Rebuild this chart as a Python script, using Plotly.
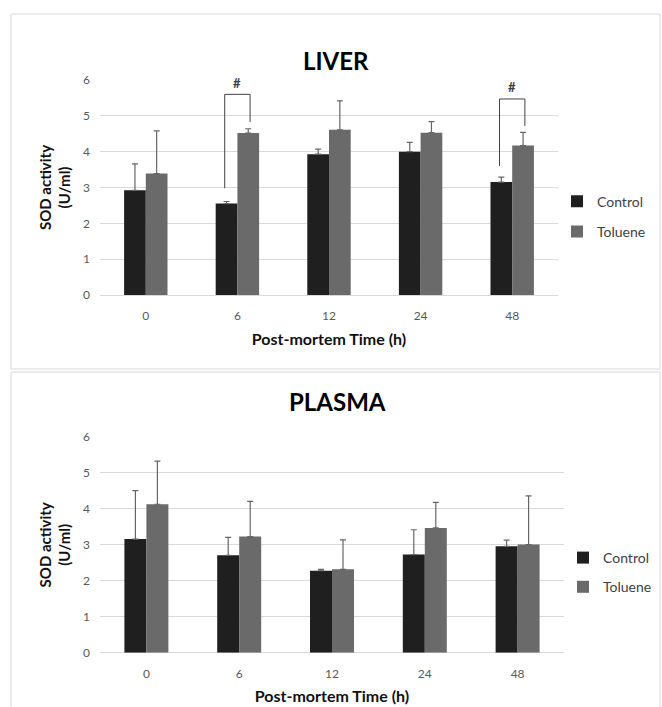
import plotly.graph_objects as go

# ---------------- data ----------------
times = ["0", "6", "12", "24", "48"]

liver_control = [2.92, 2.55, 3.93, 4.00, 3.15]
liver_control_err = [0.74, 0.06, 0.14, 0.26, 0.14]
liver_toluene = [3.39, 4.52, 4.61, 4.53, 4.17]
liver_toluene_err = [1.19, 0.12, 0.81, 0.31, 0.37]

plasma_control = [3.16, 2.71, 2.28, 2.73, 2.96]
plasma_control_err = [1.35, 0.50, 0.04, 0.69, 0.17]
plasma_toluene = [4.13, 3.23, 2.32, 3.47, 3.01]
plasma_toluene_err = [1.20, 0.98, 0.82, 0.71, 1.35]

# significance brackets (liver): group, left start, right end, top
sig_groups = ["6", "48"]
sig_left_start = [2.98, 3.60]
sig_right_end = [4.83, 4.72]
sig_top = [5.60, 5.47]
sig_label = "#"

y_ticks = [0, 1, 2, 3, 4, 5, 6]

# ---------------- style ----------------
FONT = "Lato"
C_CTRL = "#1f1f1f"
C_TOL = "#6a6a6a"
ERR_C = "#666666"
GRID = "#d9d9d9"
TICK_C = "#595959"
W, H = 662, 707
BARGAP = 0.526


def px_x(p):
    return p / W


def px_y(p):
    return 1 - p / H


fig = go.Figure()


def add_bars(ctrl, ctrl_err, tol, tol_err, xa, ya, legend):
    fig.add_trace(go.Bar(
        x=times, y=ctrl, name="Control", marker_color=C_CTRL,
        marker_line_width=0,
        error_y=dict(type="data", array=ctrl_err, symmetric=False,
                     arrayminus=[0] * len(ctrl_err), color=ERR_C,
                     thickness=1.2, width=3),
        xaxis=xa, yaxis=ya, legend=legend, legendgroup=legend + "c"))
    fig.add_trace(go.Bar(
        x=times, y=tol, name="Toluene", marker_color=C_TOL,
        marker_line_width=0,
        error_y=dict(type="data", array=tol_err, symmetric=False,
                     arrayminus=[0] * len(tol_err), color=ERR_C,
                     thickness=1.2, width=3),
        xaxis=xa, yaxis=ya, legend=legend, legendgroup=legend + "t"))


add_bars(liver_control, liver_control_err, liver_toluene, liver_toluene_err,
         "x", "y", "legend")
add_bars(plasma_control, plasma_control_err, plasma_toluene, plasma_toluene_err,
         "x2", "y2", "legend2")

axis_font = dict(family=FONT, size=12, color=TICK_C)
title_font = dict(family=FONT, size=15, color="#111111")

common_x = dict(type="category", showgrid=False, showline=False, ticks="",
                tickfont=axis_font, ticklabelstandoff=12, automargin=False,
                title=dict(text="<b>Post-mortem Time (h)</b>", font=dict(family=FONT, size=16, color="#111111"),
                           standoff=11))
common_y = dict(range=[0, 6], tickvals=y_ticks, showgrid=True, gridcolor=GRID,
                gridwidth=1, zeroline=True, zerolinecolor=GRID, zerolinewidth=1,
                showline=False, ticks="", tickfont=axis_font, ticklabelstandoff=9,
                automargin=False,
                title=dict(text="<b>SOD activity<br>(U/ml)</b>", font=title_font, standoff=8))

fig.update_layout(
    width=W, height=H,
    margin=dict(l=0, r=0, t=0, b=0, autoexpand=False),
    paper_bgcolor="white", plot_bgcolor="white",
    font=dict(family=FONT),
    barmode="group", bargap=BARGAP, bargroupgap=0,
    xaxis=dict(domain=[px_x(100), px_x(558)], anchor="y", **common_x),
    yaxis=dict(domain=[px_y(295), px_y(80)], anchor="x", **common_y),
    xaxis2=dict(domain=[px_x(100), px_x(564)], anchor="y2", **common_x),
    yaxis2=dict(domain=[px_y(652.7), px_y(437)], anchor="x2", **common_y),
    legend=dict(x=px_x(557), y=px_y(216.7), xanchor="left", yanchor="middle",
                font=dict(family=FONT, size=14, color="#404040"),
                traceorder="grouped", tracegroupgap=9, itemwidth=30,
                bgcolor="rgba(0,0,0,0)"),
    legend2=dict(x=px_x(563), y=px_y(572.5), xanchor="left", yanchor="middle",
                 font=dict(family=FONT, size=14, color="#404040"),
                 traceorder="grouped", tracegroupgap=8, itemwidth=30,
                 bgcolor="rgba(0,0,0,0)"),
)

# panel borders
fig.add_shape(type="rect", xref="paper", yref="paper",
              x0=px_x(11), x1=px_x(660), y0=px_y(369), y1=px_y(14),
              line=dict(color=GRID, width=1), layer="below")
fig.add_shape(type="rect", xref="paper", yref="paper",
              x0=px_x(11), x1=px_x(660), y0=px_y(712), y1=px_y(372),
              line=dict(color=GRID, width=1), layer="below")

# panel titles
fig.add_annotation(text="<b>LIVER</b>", xref="paper", yref="paper",
                   x=px_x(336), y=px_y(44), showarrow=False,
                   font=dict(family=FONT, size=24, color="black"))
fig.add_annotation(text="<b>PLASMA</b>", xref="paper", yref="paper",
                   x=px_x(337), y=px_y(401), showarrow=False,
                   font=dict(family=FONT, size=24, color="black"))

# significance brackets
half = (1 - BARGAP) / 4
for g, ls, re, top in zip(sig_groups, sig_left_start, sig_right_end, sig_top):
    i = times.index(g)
    xl, xr = i - half - 0.02, i + half + 0.02
    line = dict(color="#404040", width=1)
    fig.add_shape(type="line", xref="x", yref="y", x0=xl, x1=xl, y0=ls, y1=top, line=line)
    fig.add_shape(type="line", xref="x", yref="y", x0=xl, x1=xr, y0=top, y1=top, line=line)
    fig.add_shape(type="line", xref="x", yref="y", x0=xr, x1=xr, y0=top, y1=re, line=line)
    fig.add_annotation(text="<b>" + sig_label + "</b>", xref="x", yref="y", x=i, y=top + 0.05,
                       yanchor="bottom", showarrow=False,
                       font=dict(family=FONT, size=13, color="#404040"))

fig.write_html("out.html", config={"displayModeBar": False},
               post_script="document.body.style.margin='0px';document.body.style.overflow='hidden';")
